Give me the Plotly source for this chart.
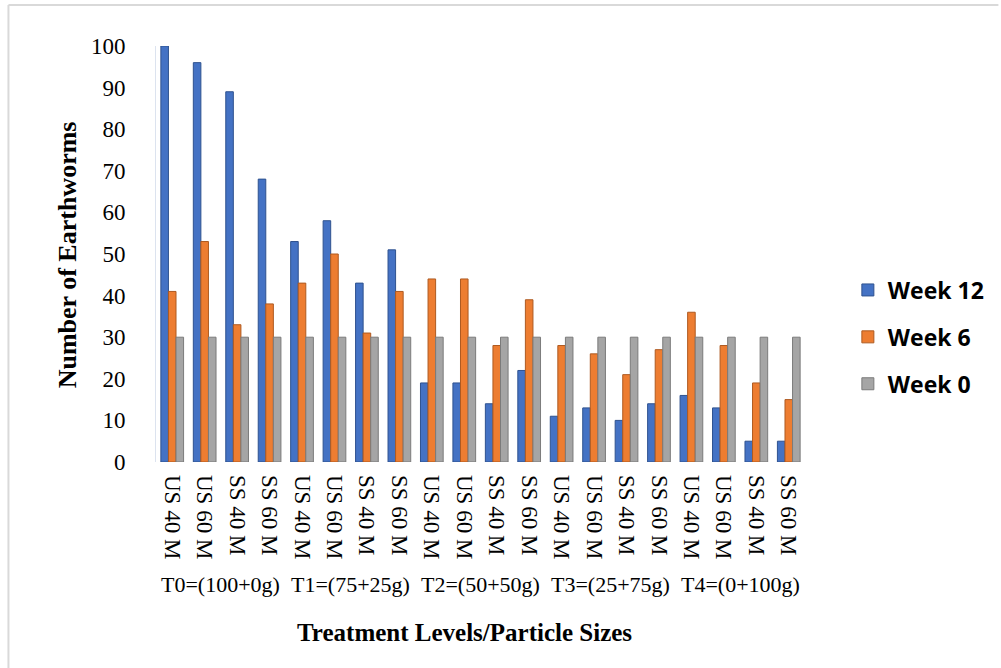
import plotly.graph_objects as go

tick_labels = ["US 40 M", "US 60 M", "SS 40 M", "SS 60 M"] * 5
group_labels = ["T0=(100+0g)", "T1=(75+25g)", "T2=(50+50g)", "T3=(25+75g)", "T4=(0+100g)"]
week12 = [100, 96, 89, 68, 53, 58, 43, 51, 19, 19, 14, 22, 11, 13, 10, 14, 16, 13, 5, 5]
week6 = [41, 53, 33, 38, 43, 50, 31, 41, 44, 44, 28, 39, 28, 26, 21, 27, 36, 28, 19, 15]
week0 = [30] * 20
series_names = ["Week 12", "Week 6", "Week 0"]
colors = ["#4472C4", "#ED7D31", "#A5A5A5"]
edge_colors = ["#2F528F", "#AE5A21", "#7B7B7B"]

xpos = list(range(len(tick_labels)))
W, H = 1001, 668
ml, mr, mt, mb = 156, 194, 46, 206
pw, ph = W - ml - mr, H - mt - mb

fig = go.Figure()
for i, (name, vals) in enumerate(zip(series_names, [week12, week6, week0])):
    fig.add_trace(go.Bar(
        x=xpos, y=vals, name=name, legendgroup=name,
        marker=dict(color=colors[i], line=dict(color=edge_colors[i], width=1)),
    ))

serif = "Liberation Serif, Times New Roman, serif"


def py(p):
    return (H - mb - p) / ph


def px(p):
    return (p - ml) / pw


annotations = []
for g, lab in enumerate(group_labels):
    annotations.append(dict(x=g * 4 + 1.5, xref="x", y=py(584), yref="paper", text=lab,
                            showarrow=False, font=dict(family=serif, size=22, color="black"),
                            xanchor="center", yanchor="middle"))
annotations.append(dict(x=px(465), xref="paper", y=py(632), yref="paper",
                        text="<b>Treatment Levels/Particle Sizes</b>", showarrow=False,
                        font=dict(family=serif, size=25, color="black"),
                        xanchor="center", yanchor="middle"))
annotations.append(dict(x=px(67), xref="paper", y=py(255), yref="paper",
                        text="<b>Number of Earthworms</b>", showarrow=False, textangle=-90,
                        font=dict(family=serif, size=26, color="black"),
                        xanchor="center", yanchor="middle"))

shapes = [
    dict(type="line", xref="paper", yref="paper", x0=px(8), x1=px(1001), y0=py(5), y1=py(5),
         line=dict(color="#d9d9d9", width=2)),
    dict(type="line", xref="paper", yref="paper", x0=px(8), x1=px(8), y0=py(5), y1=py(668),
         line=dict(color="#d9d9d9", width=2)),
]

fig.update_layout(
    width=W, height=H,
    margin=dict(l=ml, r=mr, t=mt, b=mb),
    paper_bgcolor="white", plot_bgcolor="white",
    barmode="group", bargap=0.3, bargroupgap=0,
    showlegend=True,
    legend=dict(x=px(850), y=py(337), xanchor="left", yanchor="middle",
                font=dict(family="Open Sans, Liberation Sans, sans-serif", size=23, color="black", weight="bold"),
                traceorder="grouped", tracegroupgap=14, bgcolor="rgba(0,0,0,0)"),
    xaxis=dict(tickmode="array", tickvals=xpos, ticktext=tick_labels, tickangle=90,
               range=[-0.5, len(xpos) - 0.5], showgrid=False, zeroline=False,
               showline=False, ticks="", ticklabelstandoff=12,
               tickfont=dict(family=serif, size=23, color="black")),
    yaxis=dict(range=[0, 100], tickvals=list(range(0, 101, 10)), showgrid=False, zeroline=False,
               showline=True, linecolor="#dce3ef", linewidth=1, ticks="", ticklabelstandoff=25,
               tickfont=dict(family=serif, size=23, color="black")),
    annotations=annotations,
    shapes=shapes,
)
fig.update_traces(cliponaxis=False)
fig.write_html("out.html")
